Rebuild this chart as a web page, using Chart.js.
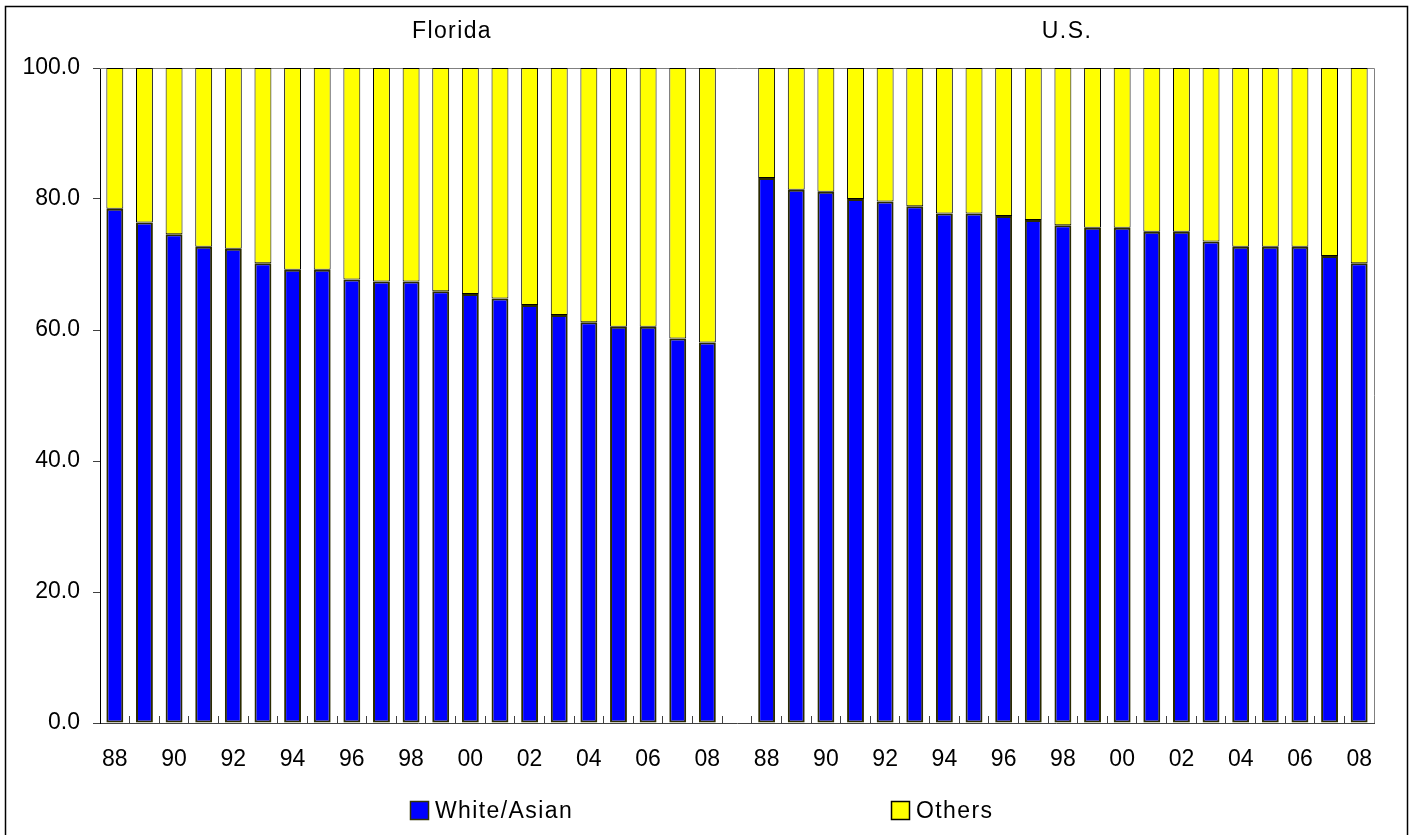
<!DOCTYPE html>
<html>
<head>
<meta charset="utf-8">
<script src="https://cdn.jsdelivr.net/npm/chart.js@4.4.1/dist/chart.umd.min.js"></script>
<style>
  html, body { margin: 0; padding: 0; background: #ffffff; }
  #wrap { width: 1416px; height: 835px; position: relative; }
</style>
</head>
<body>
<div id="wrap"><canvas id="c" width="1416" height="835"></canvas></div>
<script>
// ---- data ----
const years = ['88','89','90','91','92','93','94','95','96','97','98','99','00','01','02','03','04','05','06','07','08'];
const floridaWhiteAsian = [78.5,76.4,74.6,72.7,72.4,70.2,69.2,69.2,67.7,67.4,67.4,65.9,65.5,64.8,63.8,62.3,61.2,60.5,60.5,58.7,58.1];
const usWhiteAsian      = [83.2,81.4,81.1,80.0,79.6,78.9,77.8,77.8,77.4,76.8,76.0,75.6,75.6,75.0,75.0,73.5,72.7,72.7,72.7,71.3,70.2];
const groupTitles = ['Florida', 'U.S.'];
const seriesNames = ['White/Asian', 'Others'];
const yTicks = [0, 20, 40, 60, 80, 100];

// build category list: Florida years, one empty gap, U.S. years
const categories = years.concat([''], years);
const whiteAsian = floridaWhiteAsian.concat([null], usWhiteAsian);
const others = whiteAsian.map(v => v === null ? null : +(100 - v).toFixed(1));

const FONT = '"Liberation Sans", Arial, sans-serif';

const decor = {
  id: 'decor',
  beforeDatasetsDraw(chart) {
    const ctx = chart.ctx, a = chart.chartArea;
    ctx.save();
    ctx.strokeStyle = '#808080';
    ctx.lineWidth = 1;
    ctx.beginPath();
    ctx.moveTo(a.left, Math.round(a.top) + 0.5);
    ctx.lineTo(Math.round(a.right) + 0.5, Math.round(a.top) + 0.5);
    ctx.lineTo(Math.round(a.right) + 0.5, a.bottom);
    ctx.stroke();
    ctx.restore();
  },
  afterDraw(chart) {
    const ctx = chart.ctx;
    ctx.save();
    // outer frame
    ctx.strokeStyle = '#000000';
    ctx.lineWidth = 1.5;
    ctx.strokeRect(5.5, 6.5, 1402, 840);
    // group titles
    ctx.fillStyle = '#000000';
    ctx.font = '23px ' + FONT;
    if ('letterSpacing' in ctx) ctx.letterSpacing = '1.4px';
    ctx.textAlign = 'left';
    ctx.textBaseline = 'middle';
    const w0 = ctx.measureText(groupTitles[0]).width;
    const w1 = ctx.measureText(groupTitles[1]).width;
    ctx.fillText(groupTitles[0], 452 - w0 / 2, 32);
    ctx.fillText(groupTitles[1], 1067 - w1 / 2, 32);
    // legend
    const items = [{x: 410}, {x: 891}];
    chart.data.datasets.forEach((ds, i) => {
      const x = items[i].x, y = 801;
      ctx.fillStyle = ds.backgroundColor;
      ctx.fillRect(x, y, 19, 19);
      ctx.strokeStyle = i === 0 ? '#333300' : '#000000';
      ctx.lineWidth = 1.5;
      ctx.strokeRect(x + 0.5, y + 0.5, 18, 18);
      ctx.fillStyle = '#000000';
      ctx.textAlign = 'left';
      ctx.textBaseline = 'middle';
      ctx.fillText(ds.label, x + 25, y + 11);
    });
    ctx.restore();
  }
};

new Chart(document.getElementById('c'), {
  type: 'bar',
  data: {
    labels: categories,
    datasets: [
      { label: seriesNames[0], data: whiteAsian, backgroundColor: '#0000FF', borderColor: '#2b2b00', borderWidth: 2, borderSkipped: false },
      { label: seriesNames[1], data: others, backgroundColor: '#FFFF00', borderColor: '#000000', borderWidth: 1, borderSkipped: false }
    ]
  },
  options: {
    responsive: false,
    animation: false,
    devicePixelRatio: 1,
    layout: { padding: { top: 68, right: 42, bottom: 0, left: 0 } },
    plugins: { legend: { display: false }, title: { display: false }, tooltip: { enabled: false } },
    datasets: { bar: { categoryPercentage: 1.0, barPercentage: 0.57 } },
    scales: {
      x: {
        stacked: true,
        grid: { display: true, offset: true, drawOnChartArea: false, drawTicks: true, tickLength: -7, color: '#404040' },
        border: { display: true, color: '#404040', width: 1 },
        ticks: {
          autoSkip: false, maxRotation: 0, minRotation: 0, padding: 30,
          color: '#000000', font: { family: FONT, size: 23 },
          callback: function(v, i) { return (i % 2 === 0) ? categories[i] : ''; }
        },
        afterFit: function(s) { s.height = 112; }
      },
      y: {
        stacked: true,
        min: 0, max: 100,
        afterBuildTicks: function(s) { s.ticks = yTicks.map(v => ({ value: v })); },
        grid: { display: true, drawOnChartArea: false, drawTicks: true, tickLength: 7, color: '#404040' },
        border: { display: true, color: '#000000', width: 1 },
        ticks: {
          padding: 13, color: '#000000', font: { family: FONT, size: 23 },
          callback: function(v) { return Number(v).toFixed(1); }
        },
        afterFit: function(s) { s.width = 100; }
      }
    }
  },
  plugins: [decor]
});
</script>
</body>
</html>
